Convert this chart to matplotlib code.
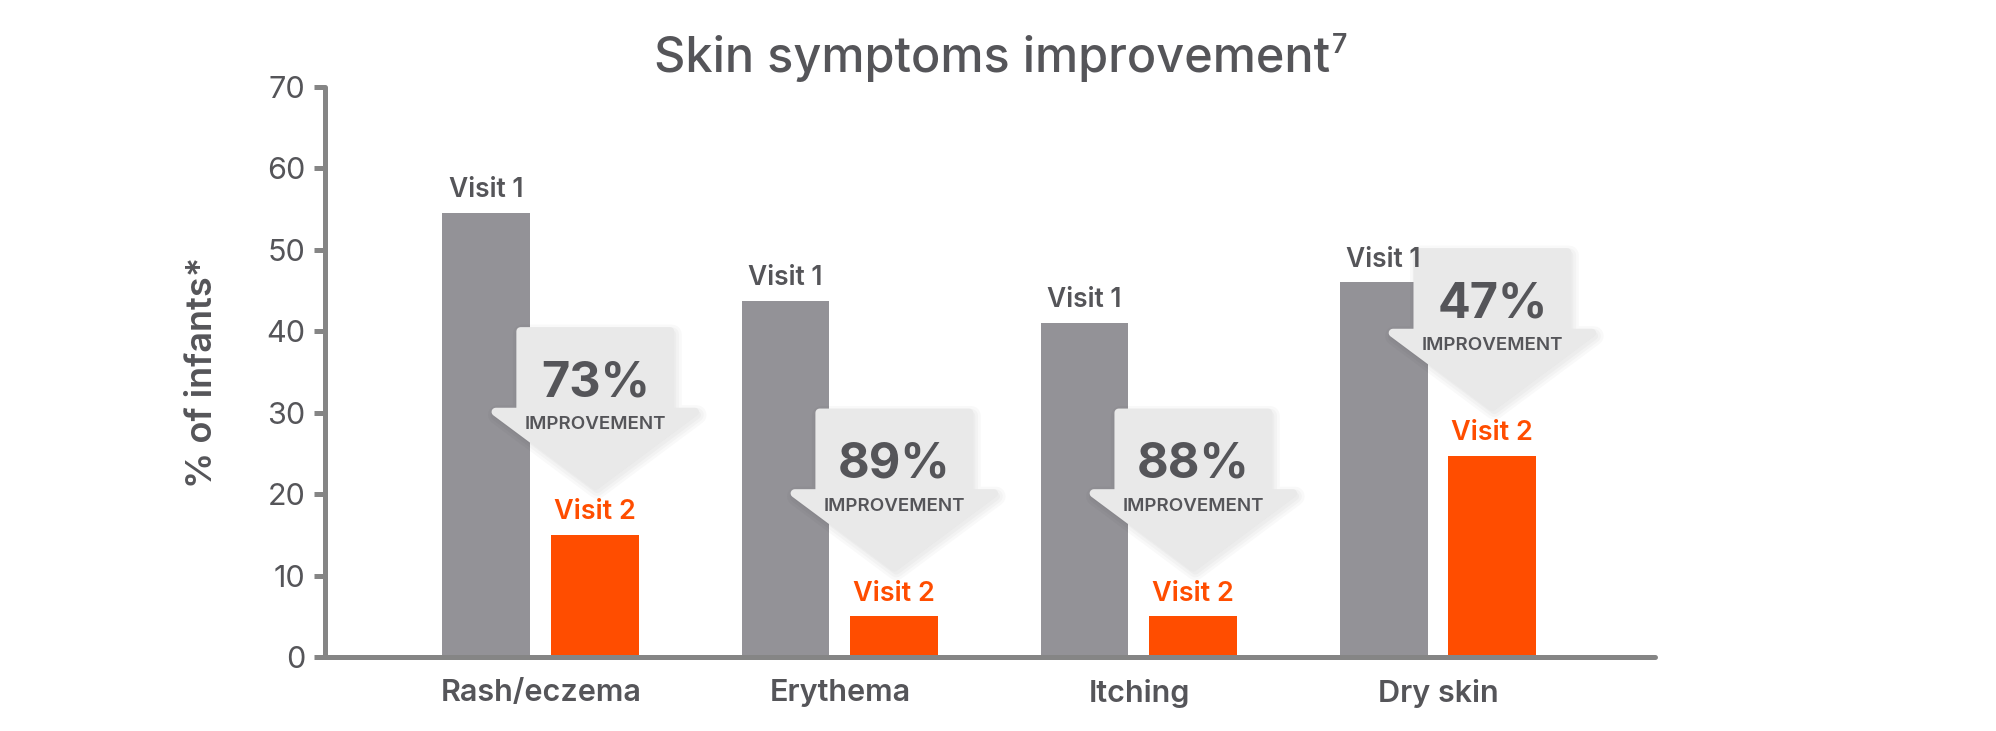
import matplotlib
matplotlib.use("Agg")
import matplotlib.pyplot as plt
import matplotlib.transforms as mtransforms
from matplotlib.patches import Polygon
import numpy as np

plt.rcParams['font.family'] = ['Inter', 'DejaVu Sans']

# data
categories = ['Rash/eczema', 'Erythema', 'Itching', 'Dry skin']
visit1 = [54.5, 43.7, 41, 46]
visit2 = [15, 5, 5, 24.7]
improvement = ['73%', '89%', '88%', '47%']

GREY = '#939297'
ORANGE = '#ff4d00'
TEXT = '#555559'
AXIS = '#858585'
ARROW = '#e9e9e9'

fig = plt.figure(figsize=(19.96, 7.31), dpi=100)
ax = fig.add_axes([0.1628, 0.1012, 0.6664, 0.7798])

x = np.arange(len(categories))
off = 0.182
w = 0.294

ax.bar(x - off, visit1, width=w, color=GREY, zorder=2)
ax.bar(x + off, visit2, width=w, color=ORANGE, zorder=2)

for xi, v in zip(x, visit1):
    ax.annotate('Visit 1', (xi - off, v), xytext=(0, 7), textcoords='offset points',
                ha='center', va='bottom', fontsize=19, fontweight='semibold', color=TEXT, zorder=7)
for xi, v in zip(x, visit2):
    ax.annotate('Visit 2', (xi + off, v), xytext=(0, 7), textcoords='offset points',
                ha='center', va='bottom', fontsize=19.5, fontweight='semibold', color=ORANGE, zorder=7)

# improvement arrows
shaft, head, head_h, total = 0.25, 0.333, 9.1, 19.0
for xi, v2, lab in zip(x, visit2, improvement):
    cx = xi + off
    tip = v2 + 6
    pts = [(cx - shaft, tip + total), (cx + shaft, tip + total), (cx + shaft, tip + head_h),
           (cx + head, tip + head_h), (cx, tip), (cx - head, tip + head_h),
           (cx - shaft, tip + head_h)]
    # soft shadow
    for lw in [14, 10, 6]:
        tr = mtransforms.offset_copy(ax.transData, fig=fig, x=2, y=-3, units='dots')
        ax.add_patch(Polygon(pts, closed=True, facecolor='#000000', edgecolor='#000000',
                             lw=lw, alpha=0.025, joinstyle='round', transform=tr, zorder=4))
    ax.add_patch(Polygon(pts, closed=True, facecolor=ARROW, edgecolor=ARROW, lw=6,
                         joinstyle='round', zorder=5))
    ax.text(cx, tip + 12.6, lab, ha='center', va='center', fontsize=35,
            fontweight='bold', color=TEXT, zorder=6)
    ax.text(cx, tip + 7.5, 'IMPROVEMENT', ha='center', va='center', fontsize=13.5,
            fontweight='semibold', color=TEXT, zorder=6)

ax.set_xlim(-0.722, 3.726)
ax.set_ylim(0, 70)
ax.set_yticks(range(0, 71, 10))
ax.set_xticks(x)
ax.set_xticklabels(categories)

for s in ['top', 'right']:
    ax.spines[s].set_visible(False)
for s in ['left', 'bottom']:
    ax.spines[s].set_color(AXIS)
    ax.spines[s].set_linewidth(3.6)
    ax.spines[s].set_capstyle('round')
ax.spines['left'].set_bounds(0, 70)

ax.tick_params(axis='y', length=8, width=3.6, color=AXIS, labelsize=22,
               labelcolor=TEXT, pad=6)
ax.tick_params(axis='x', length=0, labelsize=22, labelcolor=TEXT, pad=16)
for t in ax.get_xticklabels():
    t.set_fontweight('semibold')
for t in ax.yaxis.get_ticklines():
    t.set_solid_capstyle('round')

ax.set_ylabel('% of infants*', fontsize=26, fontweight='semibold', color=TEXT, labelpad=34)

title = fig.text(0.497, 0.92, 'Skin symptoms improvement', ha='center', va='center',
                 fontsize=35, fontweight='medium', color=TEXT)
fig.canvas.draw()
bb = title.get_window_extent()
fig.text((bb.x1 + 2) / fig.bbox.width, (bb.y1 + 2) / fig.bbox.height, '7',
         ha='left', va='top', fontsize=19, fontweight='semibold', color=TEXT)

fig.savefig('out.png', dpi=100, facecolor='white')
